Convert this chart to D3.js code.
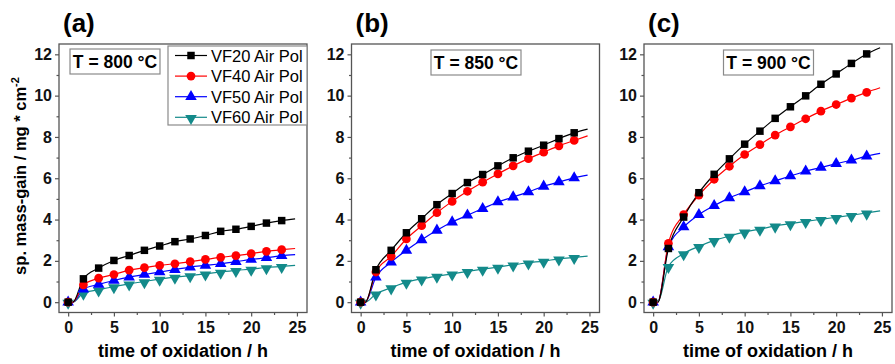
<!DOCTYPE html>
<html>
<head>
<meta charset="utf-8">
<script src="https://cdn.jsdelivr.net/npm/d3@7"></script>
<style>
  body { margin: 0; background: #fff; }
  svg { display: block; font-family: Arial, "Liberation Sans", sans-serif; }
</style>
</head>
<body>
<svg id="chart" width="895" height="364"></svg>
<script>
// measurement times (h), one marker every 100 min
var times = [0, 1.667, 3.333, 5, 6.667, 8.333, 10, 11.667, 13.333, 15, 16.667, 18.333, 20, 21.667, 23.333];
var tOnset = 0.5;   // end of heating, curve leaves zero
var tEnd = 24.8;    // curve runs on past the last marker

var seriesNames = ["VF20 Air Pol", "VF40 Air Pol", "VF50 Air Pol", "VF60 Air Pol"];
var panelLabels = ["(a)", "(b)", "(c)"];
var panelTemps = ["T = 800 °C", "T = 850 °C", "T = 900 °C"];

// T = 800 °C
var vf20_800 = [0, 1.13, 1.65, 2.02, 2.26, 2.51, 2.72, 2.93, 3.06, 3.23, 3.43, 3.53, 3.67, 3.83, 3.95];
var vf40_800 = [0, 0.84, 1.16, 1.34, 1.55, 1.67, 1.78, 1.86, 1.96, 2.07, 2.17, 2.25, 2.35, 2.46, 2.54];
var vf50_800 = [0, 0.63, 0.86, 1.05, 1.21, 1.34, 1.46, 1.58, 1.70, 1.78, 1.86, 1.96, 2.07, 2.15, 2.25];
var vf60_800 = [0, 0.44, 0.60, 0.76, 0.89, 1.00, 1.12, 1.21, 1.29, 1.37, 1.46, 1.54, 1.60, 1.68, 1.73];
var end_800 = [4.03, 2.60, 2.30, 1.78];

// T = 850 °C
var vf20_850 = [0, 1.57, 2.51, 3.36, 4.04, 4.72, 5.26, 5.79, 6.18, 6.60, 6.99, 7.31, 7.60, 7.92, 8.20];
var vf40_850 = [0, 1.46, 2.22, 3.06, 3.70, 4.33, 4.88, 5.37, 5.81, 6.21, 6.60, 6.95, 7.26, 7.57, 7.83];
var vf50_850 = [0, 1.21, 1.94, 2.51, 3.02, 3.48, 3.88, 4.21, 4.53, 4.85, 5.09, 5.34, 5.61, 5.82, 6.02];
var vf60_850 = [0, 0.40, 0.70, 0.97, 1.13, 1.26, 1.37, 1.49, 1.60, 1.70, 1.81, 1.91, 1.99, 2.10, 2.17];
var end_850 = [8.38, 8.05, 6.15, 2.23];

// T = 900 °C
var vf20_900 = [0, 2.60, 4.12, 5.30, 6.19, 6.94, 7.65, 8.28, 8.90, 9.46, 9.99, 10.55, 11.05, 11.56, 12.02];
var vf40_900 = [0, 2.85, 4.24, 5.18, 5.95, 6.58, 7.15, 7.63, 8.09, 8.49, 8.88, 9.25, 9.57, 9.88, 10.16];
var vf50_900 = [0, 2.67, 3.64, 4.24, 4.67, 5.05, 5.34, 5.63, 5.87, 6.11, 6.34, 6.52, 6.71, 6.87, 7.07];
var vf60_900 = [0, 1.73, 2.35, 2.70, 2.99, 3.20, 3.40, 3.54, 3.69, 3.80, 3.91, 4.01, 4.11, 4.21, 4.32];
var end_900 = [12.32, 10.38, 7.20, 4.42];

var xTicks = [0, 5, 10, 15, 20, 25];
var xMinor = [2.5, 7.5, 12.5, 17.5, 22.5];
var yTicks = [0, 2, 4, 6, 8, 10, 12];
var yMinor = [1, 3, 5, 7, 9, 11];

var panels = [
  { values: [vf20_800, vf40_800, vf50_800, vf60_800], ends: end_800 },
  { values: [vf20_850, vf40_850, vf50_850, vf60_850], ends: end_850 },
  { values: [vf20_900, vf40_900, vf50_900, vf60_900], ends: end_900 }
];

var colors = ["#000000", "#ff0000", "#0000ff", "#138a8a"];
var symbols = [d3.symbolSquare, d3.symbolCircle, d3.symbolTriangle, d3.symbolTriangle];
var symSize = [56, 60, 58, 58];
var symRot = [0, 0, 0, 180];

var svg = d3.select("#chart");
var frameColor = "#555";
var pw = 248, plotTop = 44, plotBottom = 312.5;
var lefts = [59, 351.5, 644];

var y = d3.scaleLinear().domain([-0.5, 12.5]).range([plotBottom, plotTop]);

function marker(g, i, cx, cy) {
  g.append("path")
    .attr("d", d3.symbol().type(symbols[i]).size(symSize[i])())
    .attr("transform", "translate(" + cx + "," + (cy + (symRot[i] ? 1 : 0)) + ") rotate(" + symRot[i] + ")")
    .attr("fill", colors[i]);
}

panels.forEach(function(p, pi) {
  var left = lefts[pi];
  var x = d3.scaleLinear().domain([-1, 26.1]).range([left, left + pw]);
  var g = svg.append("g");

  // axes with outward ticks
  g.append("g").attr("transform", "translate(0," + plotBottom + ")")
    .call(d3.axisBottom(x).tickValues(xTicks).tickSize(4).tickPadding(5).tickFormat(d3.format("d")));
  g.append("g").attr("transform", "translate(0," + plotBottom + ")")
    .call(d3.axisBottom(x).tickValues(xMinor).tickSize(2.5).tickFormat(""));
  g.append("g").attr("transform", "translate(" + left + ",0)")
    .call(d3.axisLeft(y).tickValues(yTicks).tickSize(4).tickPadding(3).tickFormat(d3.format("d")));
  g.append("g").attr("transform", "translate(" + left + ",0)")
    .call(d3.axisLeft(y).tickValues(yMinor).tickSize(2.5).tickFormat(""));
  g.selectAll(".domain").remove();
  g.selectAll(".tick line").attr("stroke", frameColor).attr("stroke-width", 1.2);
  g.selectAll(".tick text").attr("fill", "#111").style("font-size", "16px").style("font-weight", "bold")
    .style("font-family", "Arial, 'Liberation Sans', sans-serif");

  // frame
  g.append("rect")
    .attr("x", left).attr("y", plotTop)
    .attr("width", pw).attr("height", plotBottom - plotTop)
    .attr("fill", "none").attr("stroke", frameColor).attr("stroke-width", 1.3);

  // curves, drawn back to front
  for (var i = 3; i >= 0; i--) {
    var pts = [[0, 0], [tOnset, 0]];
    times.forEach(function(t, k) { if (k > 0) pts.push([t, p.values[i][k]]); });
    pts.push([tEnd, p.ends[i]]);
    g.append("path")
      .datum(pts)
      .attr("fill", "none")
      .attr("stroke", colors[i])
      .attr("stroke-width", 1.2)
      .attr("d", d3.line().curve(d3.curveMonotoneX)
        .x(function(d) { return x(d[0]); })
        .y(function(d) { return y(d[1]); }));
  }
  for (var j = 3; j >= 0; j--) {
    times.forEach(function(t, k) { marker(g, j, x(t), y(p.values[j][k])); });
  }

  // panel label
  svg.append("text")
    .attr("x", left + 4).attr("y", 32)
    .style("font-size", "26px").style("font-weight", "bold")
    .text(panelLabels[pi]);

  // temperature box
  var bx = pi === 0 ? left + 11 : left + 79.5;
  var by = pi === 0 ? 49 : 50;
  svg.append("rect")
    .attr("x", bx).attr("y", by).attr("width", 90).attr("height", 25)
    .attr("fill", "#fff").attr("stroke", "#8a8a8a").attr("stroke-width", 1.2);
  svg.append("text")
    .attr("x", bx + 45).attr("y", by + 18.5)
    .attr("text-anchor", "middle")
    .style("font-size", "17.5px").style("font-weight", "bold")
    .text(panelTemps[pi]);

  // x label
  svg.append("text")
    .attr("x", left + pw / 2).attr("y", 357)
    .attr("text-anchor", "middle")
    .style("font-size", "18px").style("font-weight", "bold")
    .text("time of oxidation / h");
});

// legend in panel (a)
var lg = svg.append("g");
lg.append("rect")
  .attr("x", 168).attr("y", 46).attr("width", 139).attr("height", 79)
  .attr("fill", "#fff").attr("stroke", "#8a8a8a").attr("stroke-width", 1.2);
seriesNames.forEach(function(name, i) {
  var cy = 55.5 + i * 20.6;
  lg.append("line").attr("x1", 175).attr("x2", 207).attr("y1", cy).attr("y2", cy)
    .attr("stroke", colors[i]).attr("stroke-width", 1.2);
  marker(lg, i, 191, cy);
  lg.append("text").attr("x", 211).attr("y", cy + 6)
    .style("font-size", "16.5px")
    .text(name);
});

// y label
svg.append("text")
  .attr("transform", "translate(26,176) rotate(-90)")
  .attr("text-anchor", "middle")
  .style("font-size", "16.5px").style("font-weight", "bold")
  .html("sp. mass-gain / mg * cm<tspan dy='-7' font-size='11px'>-2</tspan>");
</script>
</body>
</html>
